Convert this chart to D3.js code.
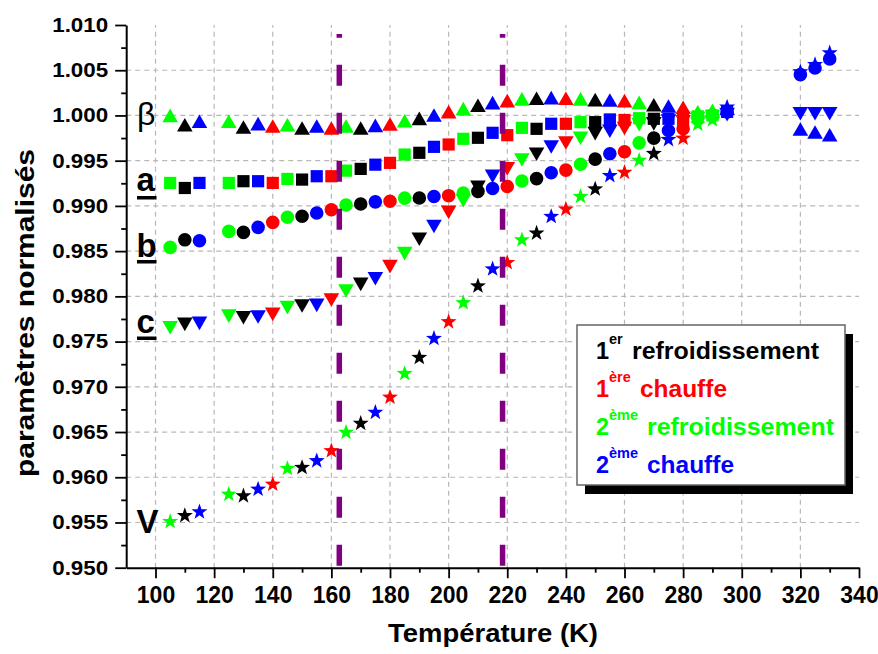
<!DOCTYPE html>
<html><head><meta charset="utf-8">
<script src="https://cdn.jsdelivr.net/npm/d3@7"></script>
<style>
body{margin:0;background:#fff}
svg{display:block}
text{font-family:"Liberation Sans",Arial,sans-serif}
</style>
</head><body>
<svg id="chart" width="878" height="654"></svg>
<script>
// ---------------- data ----------------
const temperatures = [105,110,115,125,130,135,140,145,150,155,160,165,170,175,180,185,190,195,200,205,210,215,220,225,230,235,240,245,250,255,260,265,270,275,280,285,290,295,320,325,330];
// 0: 1er refroidissement, 1: 1ère chauffe, 2: 2ème refroidissement, 3: 2ème chauffe
const runIndex = [2,0,3, 2,0,3,1, 2,0,3,1, 2,0,3,1, 2,0,3,1, 2,0,3,1, 2,0,3,1, 2,0,3,1, 2,0,3,1, 2,2,3, 3,3,3];
const runColors = ["#000000","#ff0000","#00ff00","#0000ff"];

const betaValues = [1.0000,0.99896,0.99934, 0.99934,0.99871,0.99908,0.99882, 0.99896,0.9986,0.99882,0.9986, 0.99882,0.9986,0.99889,0.99905, 0.99941,0.99967,1.00004,1.00041, 1.00074,1.00111,1.00141,1.00163, 1.00182,1.00189,1.00196,1.00189, 1.00182,1.00174,1.0017,1.00163, 1.00144,1.00118,1.00104,1.00089, 1.0004,1.00056,1.0008, 0.99849,0.99816,0.99786];
const aValues = [0.99254,0.99198,0.99254, 0.99254,0.99273,0.99273,0.99254, 0.99298,0.99291,0.99328,0.99328, 0.9939,0.99409,0.99456,0.99476, 0.99568,0.99587,0.99653,0.99679, 0.99742,0.99753,0.99808,0.99782, 0.99863,0.99852,0.99908,0.99908, 0.99926,0.99926,0.99956,0.9995, 0.9997,0.99963,0.99963,0.99952, 0.9999,1.0000,1.0004, null,null,null];
const bValues = [0.98541,0.98625,0.98614, 0.98718,0.98707,0.98763,0.98818, 0.98874,0.98885,0.98921,0.98958, 0.9901,0.99021,0.99045,0.99051, 0.99086,0.99088,0.99104,0.99113, 0.99143,0.9916,0.99193,0.99215, 0.99276,0.99302,0.99366,0.99396, 0.99461,0.99517,0.99576,0.99598, 0.99697,0.99749,0.99834,0.99853, 0.9998,1.0000,1.0004, 1.00451,1.00525,1.00625];
const cValues = [0.97654,0.97691,0.97702, 0.97783,0.97765,0.97772,0.97802, 0.97876,0.97894,0.97901,0.9796, 0.9806,0.98134,0.98195,0.9833, 0.98474,0.98633,0.98774,0.98929, 0.99058,0.99206,0.99328,0.99411, 0.99508,0.99572,0.99653,0.99697, 0.99749,0.998,0.99827,0.99856, 0.999,0.99908,0.9994,0.9993, 0.9997,0.9999,1.0001, 1.0002,1.0002,1.0002];
const vValues = [0.95518,0.95584,0.95625, 0.9582,0.95802,0.95876,0.95931, 0.96105,0.96116,0.9619,0.96301, 0.96504,0.96604,0.96726,0.96893, 0.97155,0.97333,0.97543,0.97727, 0.97938,0.98123,0.98311,0.98381, 0.98633,0.98707,0.98891,0.98973, 0.99113,0.99195,0.99343,0.99379, 0.99512,0.99587,0.99742,0.99756, 0.99911,0.99959,1.001, 1.0049,1.0057,1.007];

const transitionTemps = [162.7, 218.4];
const xTicks = [100,120,140,160,180,200,220,240,260,280,300,320,340];
const yTicks = [0.950,0.955,0.960,0.965,0.970,0.975,0.980,0.985,0.990,0.995,1.000,1.005,1.010];

// ---------------- chart ----------------
const svg = d3.select("#chart");
const x = d3.scaleLinear().domain([90,340]).range([126.2,859]);
const y = d3.scaleLinear().domain([0.950,1.010]).range([567.7,25]);

// grid
const grid = svg.append("g").attr("stroke","#b8b8b8").attr("stroke-width",1.2).attr("stroke-dasharray","5,4");
grid.selectAll("line.gx").data(xTicks.filter(t=>t<340)).join("line")
  .attr("x1",d=>x(d)).attr("x2",d=>x(d)).attr("y1",y(0.950)).attr("y2",y(1.010));
grid.selectAll("line.gy").data(yTicks.filter(v=>v>0.9501 && v<1.0095)).join("line")
  .attr("x1",x(90)).attr("x2",x(340)).attr("y1",d=>y(d)).attr("y2",d=>y(d));

// markers
function starPath(R, r){
  let p=[];
  for(let i=0;i<10;i++){
    const rad = i%2===0 ? R : r;
    const ang = -Math.PI/2 + i*Math.PI/5;
    p.push([rad*Math.cos(ang), rad*Math.sin(ang)+0.095*R]);
  }
  return "M"+p.map(q=>q[0].toFixed(2)+","+q[1].toFixed(2)).join("L")+"Z";
}
const shapes = {
  star: starPath(8.4,3.4),
  triDown: "M0,6.9L7.8,-6.7L-7.8,-6.7Z",
  circle: d3.symbol().type(d3.symbolCircle).size(Math.PI*6.8*6.8)(),
  square: "M-6.1,-6.1H6.1V6.1H-6.1Z",
  triUp: "M0,-6.9L7.8,6.7L-7.8,6.7Z"
};
const params = [
  {values:vValues, shape:"star"},
  {values:aValues, shape:"square"},
  {values:cValues, shape:"triDown"},
  {values:bValues, shape:"circle"},
  {values:betaValues, shape:"triUp"}
];
const mk = svg.append("g");
params.forEach(p=>{
  const pts = temperatures.map((t,i)=>({t, v:p.values[i], r:runIndex[i]})).filter(d=>d.v!==null);
  mk.append("g").selectAll("path").data(pts)
    .join("path")
    .attr("d",shapes[p.shape])
    .attr("transform",d=>`translate(${x(d.t)},${y(d.v)})`)
    .attr("fill",d=>runColors[d.r]);
});

// transition lines (purple dashed)
svg.append("g").selectAll("line").data(transitionTemps).join("line")
  .attr("x1",d=>x(d)).attr("x2",d=>x(d))
  .attr("y1",y(0.950)-2).attr("y2",y(1.009))
  .attr("stroke","#800080").attr("stroke-width",5.5).attr("stroke-dasharray","21,27");

// axes
const yAxis = svg.append("g").attr("transform",`translate(${x(90)},0)`)
  .call(d3.axisLeft(y).tickValues(yTicks).tickFormat(d3.format(".3f")).tickSize(11).tickSizeOuter(0).tickPadding(7));
yAxis.selectAll("text").attr("font-size",20).attr("font-weight","bold").attr("fill","#000")
  .attr("font-family","Liberation Sans, Arial, sans-serif")
  .attr("textLength",56).attr("lengthAdjust","spacingAndGlyphs");
svg.append("g").attr("transform",`translate(${x(90)},0)`)
  .call(d3.axisLeft(y).tickValues(d3.range(0,12).map(i=>0.9525+i*0.005)).tickFormat("").tickSize(5).tickSizeOuter(0))
  .select(".domain").remove();

const xAxis = svg.append("g").attr("transform",`translate(0,${y(0.950)})`)
  .call(d3.axisBottom(x).tickValues(xTicks).tickSize(10.5).tickSizeOuter(0).tickPadding(8.5));
xAxis.selectAll("text").attr("font-size",23).attr("font-weight","bold").attr("fill","#000")
  .attr("font-family","Liberation Sans, Arial, sans-serif");
svg.append("g").attr("transform",`translate(0,${y(0.950)})`)
  .call(d3.axisBottom(x).tickValues(d3.range(110,340,20)).tickFormat("").tickSize(5).tickSizeOuter(0))
  .select(".domain").remove();
svg.selectAll(".domain").attr("stroke-width",2).attr("stroke","#000");
svg.selectAll(".tick line").attr("stroke-width",1.8).attr("stroke","#000");

// axis titles
svg.append("text").attr("x",493).attr("y",642).attr("text-anchor","middle")
  .attr("font-size",26).attr("font-weight","bold")
  .attr("textLength",210).attr("lengthAdjust","spacingAndGlyphs")
  .text("Température (K)");
svg.append("text").attr("transform","translate(34,313) rotate(-90)").attr("text-anchor","middle")
  .attr("font-size",25).attr("font-weight","bold")
  .attr("textLength",328).attr("lengthAdjust","spacingAndGlyphs")
  .text("paramètres normalisés");

// parameter labels
svg.append("text").attr("x",137).attr("y",125).attr("font-size",32).text("β");
const lab = [
  {t:"a", yb:191, u:196},
  {t:"b", yb:257, u:260},
  {t:"c", yb:333, u:336.5},
  {t:"V", yb:533, u:null}
];
lab.forEach(l=>{
  svg.append("text").attr("x",136.5).attr("y",l.yb).attr("font-size",33).attr("font-weight","bold").text(l.t);
  if(l.u!==null) svg.append("rect").attr("x",137).attr("y",l.u).attr("width",19.5).attr("height",3.5).attr("fill","#000");
});

// legend
const lg = svg.append("g");
lg.append("rect").attr("x",585).attr("y",334).attr("width",268).attr("height",160).attr("fill","#000");
lg.append("rect").attr("x",577).attr("y",325).attr("width",268).attr("height",160).attr("fill","#fff").attr("stroke","#666").attr("stroke-width",1.5);
const legendItems = [
  {num:"1", sup:"er", word:"refroidissement", wx:632, wl:187},
  {num:"1", sup:"ère", word:"chauffe", wx:640, wl:87},
  {num:"2", sup:"ème", word:"refroidissement", wx:647, wl:187},
  {num:"2", sup:"ème", word:"chauffe", wx:647, wl:87}
];
const baselines = [359,397,435,473];
legendItems.forEach((it,i)=>{
  const g = lg.append("g").attr("fill",runColors[i]).attr("font-weight","bold");
  g.append("text").attr("x",596).attr("y",baselines[i]).attr("font-size",23.5).text(it.num);
  g.append("text").attr("x",609).attr("y",baselines[i]-15).attr("font-size",14.5).text(it.sup);
  g.append("text").attr("x",it.wx).attr("y",baselines[i]).attr("font-size",23.5)
    .attr("textLength",it.wl).attr("lengthAdjust","spacingAndGlyphs").text(it.word);
});
</script>
</body></html>
